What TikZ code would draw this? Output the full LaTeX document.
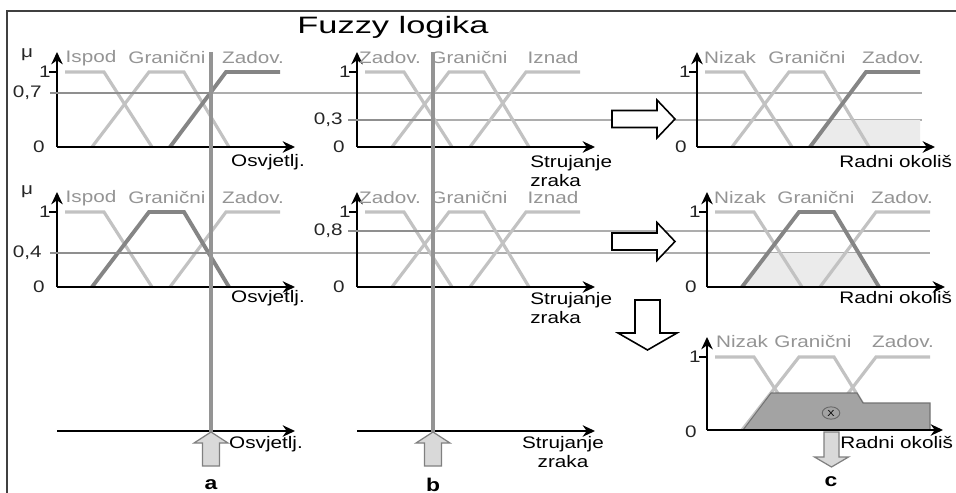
\documentclass[tikz,border=0pt]{standalone}
\usepackage{fontspec}
\setmainfont{Liberation Sans}
\newfontfamily\labfont[FakeStretch=1.24]{Liberation Sans}
\newfontfamily\headfont[FakeStretch=1.45]{Liberation Sans}
\usepackage{tikz}
\usetikzlibrary{arrows.meta,shapes.geometric}

\definecolor{mflight}{gray}{0.76}
\definecolor{mfdark}{gray}{0.52}
\definecolor{namegray}{gray}{0.58}
\definecolor{cutgray}{gray}{0.56}
\definecolor{levelgray}{gray}{0.68}
\definecolor{inputgray}{gray}{0.58}
\definecolor{clipgray}{gray}{0.92}
\definecolor{agggray}{gray}{0.64}

\tikzset{
  edgeline/.style={line width=0.7pt, black!75},
  axisline/.style={line width=1.6pt, -{Stealth[length=7pt,width=6.5pt]}},
  tickline/.style={line width=0.8pt},
  mf/.style={line width=1.8pt, mflight},
  mfsel/.style={line width=2.2pt, mfdark},
  cutline/.style={line width=1.7pt, cutgray},
  levelline/.style={line width=0.6pt, levelgray},
  inputline/.style={line width=1.8pt, inputgray},
  clipfill/.style={fill=clipgray},
  aggfill/.style={fill=agggray, draw=black!55, line width=0.6pt},
  hollow/.style={draw=black, fill=white, line width=0.9pt},
  inarrow/.style={draw=gray, fill=black!15, line width=0.7pt},
  labtext/.style={font=\labfont\fontsize{9.5}{11}\selectfont, inner sep=0pt},
  mfname/.style={labtext, text=namegray},
  num/.style={labtext, text=black!85},
  letter/.style={font=\labfont\bfseries\fontsize{10.5}{12}\selectfont, inner sep=0pt},
  titletext/.style={font=\headfont\fontsize{13.5}{16}\selectfont, inner sep=0pt},
  centroid/.style={ellipse, draw=black!60, line width=0.5pt, minimum width=10pt,
    minimum height=7pt, inner sep=0pt, font=\labfont\fontsize{5}{6}\selectfont}
}

\begin{document}
\begin{tikzpicture}[x=0.02cm,y=-0.02cm]
	\useasboundingbox (0,0) rectangle (956,493);

	%frame and title
	\draw[edgeline] (7,493) -- (7,11) -- (956,11);
	\node[titletext] (title) at (393,27) {Fuzzy logika};

	%thin level lines
	\draw[levelline] (211,93) -- (922,93);
	\draw[levelline] (433,120) -- (922,120);
	\draw[levelline] (433,231) -- (930,231);
	\draw[levelline] (211,253) -- (930,253);

	%row 1: Osvjetlj.
	\begin{scope}[shift={(57,147)},yscale=-1]
		\draw[mf] (8,75) -- (47,75) -- (95,0);
		\draw[mf] (35,0) -- (92,75) -- (127,75) -- (172,0);
		\draw[mfsel] (113,0) -- (169,75) -- (223,75);
		\draw[axisline] (0,0) -- (238,0);
		\draw[axisline] (0,0) -- (0,95);
		\draw[tickline] (-8,75) -- (0,75);
		\node[num,anchor=east] (o1 one) at (-6,75) {1};
		\node[num,anchor=east] (o1 zero) at (-12,0) {0};
		\node[num] (o1 mu) at (-30,92) {μ};
		\node[mfname] (o1 ispod) at (34,89) {Ispod};
		\node[mfname] (o1 gran) at (110,89) {Granični};
		\node[mfname] (o1 zad) at (196,89) {Zadov.};
		\node[labtext] (o1 lab) at (211,-15) {Osvjetlj.};
	\end{scope}

	%row 1: Strujanje zraka
	\begin{scope}[shift={(357,147)},yscale=-1]
		\draw[mf] (8,75) -- (47,75) -- (95,0);
		\draw[mf] (35,0) -- (92,75) -- (127,75) -- (172,0);
		\draw[mf] (113,0) -- (169,75) -- (223,75);
		\draw[axisline] (0,0) -- (238,0);
		\draw[axisline] (0,0) -- (0,95);
		\draw[tickline] (-8,75) -- (0,75);
		\node[num,anchor=east] (s1 one) at (-6,75) {1};
		\node[num,anchor=east] (s1 zero) at (-12,0) {0};
		\node[mfname] (s1 zad) at (33,89) {Zadov.};
		\node[mfname] (s1 gran) at (112,89) {Granični};
		\node[mfname] (s1 izn) at (196,89) {Iznad};
		\node[labtext,anchor=west,align=left] (s1 lab) at (173,-24) {Strujanje\\zraka};
	\end{scope}

	%row 1: Radni okolis
	\begin{scope}[shift={(697,147)},yscale=-1]
		\fill[clipfill] (113,0) -- (133,27) -- (223,27) -- (223,0) -- cycle;
		\draw[mf] (8,75) -- (47,75) -- (95,0);
		\draw[mf] (35,0) -- (92,75) -- (127,75) -- (172,0);
		\draw[mfsel] (113,0) -- (169,75) -- (223,75);
		\draw[axisline] (0,0) -- (238,0);
		\draw[axisline] (0,0) -- (0,95);
		\draw[tickline] (-8,75) -- (0,75);
		\node[num,anchor=east] (r1 one) at (-6,75) {1};
		\node[num,anchor=east] (r1 zero) at (-10,0) {0};
		\node[mfname] (r1 niz) at (33,89) {Nizak};
		\node[mfname] (r1 gran) at (110,89) {Granični};
		\node[mfname] (r1 zad) at (196,89) {Zadov.};
		\node[labtext,anchor=west] (r1 lab) at (142,-15) {Radni okoliš};
	\end{scope}

	%row 2: Osvjetlj.
	\begin{scope}[shift={(57,287)},yscale=-1]
		\draw[mf] (8,75) -- (47,75) -- (95,0);
		\draw[mf] (113,0) -- (169,75) -- (223,75);
		\draw[mfsel] (35,0) -- (92,75) -- (127,75) -- (172,0);
		\draw[axisline] (0,0) -- (238,0);
		\draw[axisline] (0,0) -- (0,95);
		\draw[tickline] (-8,75) -- (0,75);
		\node[num,anchor=east] (o2 one) at (-6,75) {1};
		\node[num,anchor=east] (o2 zero) at (-12,0) {0};
		\node[num] (o2 mu) at (-30,95) {μ};
		\node[mfname] (o2 ispod) at (34,89) {Ispod};
		\node[mfname] (o2 gran) at (110,89) {Granični};
		\node[mfname] (o2 zad) at (196,89) {Zadov.};
		\node[labtext] (o2 lab) at (211,-11) {Osvjetlj.};
	\end{scope}

	%row 2: Strujanje zraka
	\begin{scope}[shift={(357,287)},yscale=-1]
		\draw[mf] (8,75) -- (47,75) -- (95,0);
		\draw[mf] (35,0) -- (92,75) -- (127,75) -- (172,0);
		\draw[mf] (113,0) -- (169,75) -- (223,75);
		\draw[axisline] (0,0) -- (238,0);
		\draw[axisline] (0,0) -- (0,95);
		\draw[tickline] (-8,75) -- (0,75);
		\node[num,anchor=east] (s2 one) at (-6,75) {1};
		\node[num,anchor=east] (s2 zero) at (-12,0) {0};
		\node[mfname] (s2 zad) at (33,89) {Zadov.};
		\node[mfname] (s2 gran) at (112,89) {Granični};
		\node[mfname] (s2 izn) at (196,89) {Iznad};
		\node[labtext,anchor=west,align=left] (s2 lab) at (173,-21) {Strujanje\\zraka};
	\end{scope}

	%row 2: Radni okolis
	\begin{scope}[shift={(707,287)},yscale=-1]
		\fill[clipfill] (35,0) -- (61,34) -- (152,34) -- (172,0) -- cycle;
		\draw[mf] (8,75) -- (47,75) -- (95,0);
		\draw[mf] (113,0) -- (169,75) -- (223,75);
		\draw[mfsel] (35,0) -- (92,75) -- (127,75) -- (172,0);
		\draw[axisline] (0,0) -- (238,0);
		\draw[axisline] (0,0) -- (0,95);
		\draw[tickline] (-8,75) -- (0,75);
		\node[num,anchor=east] (r2 one) at (-6,75) {1};
		\node[num,anchor=east] (r2 zero) at (-10,0) {0};
		\node[mfname] (r2 niz) at (33,89) {Nizak};
		\node[mfname] (r2 gran) at (109,89) {Granični};
		\node[mfname] (r2 zad) at (195,89) {Zadov.};
		\node[labtext,anchor=west] (r2 lab) at (132,-11) {Radni okoliš};
	\end{scope}

	%row 3: aggregated output
	\begin{scope}[shift={(707,430)},yscale=-1]
		\draw[mf] (8,73) -- (47,73) -- (95,0);
		\draw[mf] (35,0) -- (92,73) -- (127,73) -- (172,0);
		\draw[mf] (113,0) -- (169,73) -- (223,73);
		\filldraw[aggfill] (36,0) -- (64,37) -- (150,37) -- (156,27) -- (223,27) -- (223,0) -- cycle;
		\node[centroid] (cog) at (124,17) {X};
		\draw[axisline] (0,0) -- (236,0);
		\draw[axisline] (0,0) -- (0,93);
		\draw[tickline] (-8,73) -- (0,73);
		\node[num,anchor=east] (r3 one) at (-6,73) {1};
		\node[num,anchor=east] (r3 zero) at (-10,-2) {0};
		\node[mfname] (r3 niz) at (35,88) {Nizak};
		\node[mfname] (r3 gran) at (106,88) {Granični};
		\node[mfname] (r3 zad) at (196,88) {Zadov.};
		\node[labtext,anchor=west] (r3 lab) at (133,-13) {Radni okoliš};
	\end{scope}

	%row 3: crisp inputs
	\draw[axisline] (57,431) -- (295,431);
	\node[labtext] (o3 lab) at (266,444) {Osvjetlj.};
	\draw[axisline] (357,431) -- (595,431);
	\node[labtext,align=center] (s3 lab) at (563,452) {Strujanje\\zraka};

	%cut levels
	\draw[cutline] (50,93) -- (211,93);
	\node[num,anchor=east] (cut07) at (42,93) {0,7};
	\draw[cutline] (348,120) -- (433,120);
	\node[num,anchor=east] (cut03) at (343,120) {0,3};
	\draw[cutline] (50,253) -- (211,253);
	\node[num,anchor=east] (cut04) at (42,253) {0,4};
	\draw[cutline] (348,231) -- (433,231);
	\node[num,anchor=east] (cut08) at (343,231) {0,8};

	%input lines
	\coordinate (a in) at (211,432);
	\coordinate (b in) at (433,432);
	\draw[inputline] (211,52) -- (a in);
	\draw[inputline] (433,52) -- (b in);

	%block arrows
	\coordinate (imp1) at (612,119);
	\coordinate (imp2) at (612,241.5);
	\coordinate (agg) at (647.5,300);
	\draw[hollow] (imp1) ++(0,-8.5) -- ++(45,0) -- ++(0,-10.5) -- ++(18,19) -- ++(-18,19) -- ++(0,-10.5) -- ++(-45,0) -- cycle;
	\draw[hollow] (imp2) ++(0,-8.5) -- ++(45,0) -- ++(0,-10.5) -- ++(18,19) -- ++(-18,19) -- ++(0,-10.5) -- ++(-45,0) -- cycle;
	\draw[hollow] (agg) ++(-12.5,0) -- ++(25,0) -- ++(0,33) -- ++(17,0) -- ++(-29.5,17) -- ++(-29.5,-17) -- ++(17,0) -- cycle;

	\draw[inarrow] (a in) -- ++(17,11) -- ++(-8.5,0) -- ++(0,23) -- ++(-17,0) -- ++(0,-23) -- ++(-8.5,0) -- cycle;
	\draw[inarrow] (b in) -- ++(17,11) -- ++(-8.5,0) -- ++(0,23) -- ++(-17,0) -- ++(0,-23) -- ++(-8.5,0) -- cycle;
	\coordinate (c out) at (831.5,432);
	\draw[inarrow] (c out) ++(-7.5,0) -- ++(15,0) -- ++(0,25) -- ++(9.5,0) -- ++(-17,10) -- ++(-17,-10) -- ++(9.5,0) -- cycle;

	%letters
	\node[letter] (a lab) at (211,485) {a};
	\node[letter] (b lab) at (433,485) {b};
	\node[letter] (c lab) at (831,482) {c};
\end{tikzpicture}
\end{document}
